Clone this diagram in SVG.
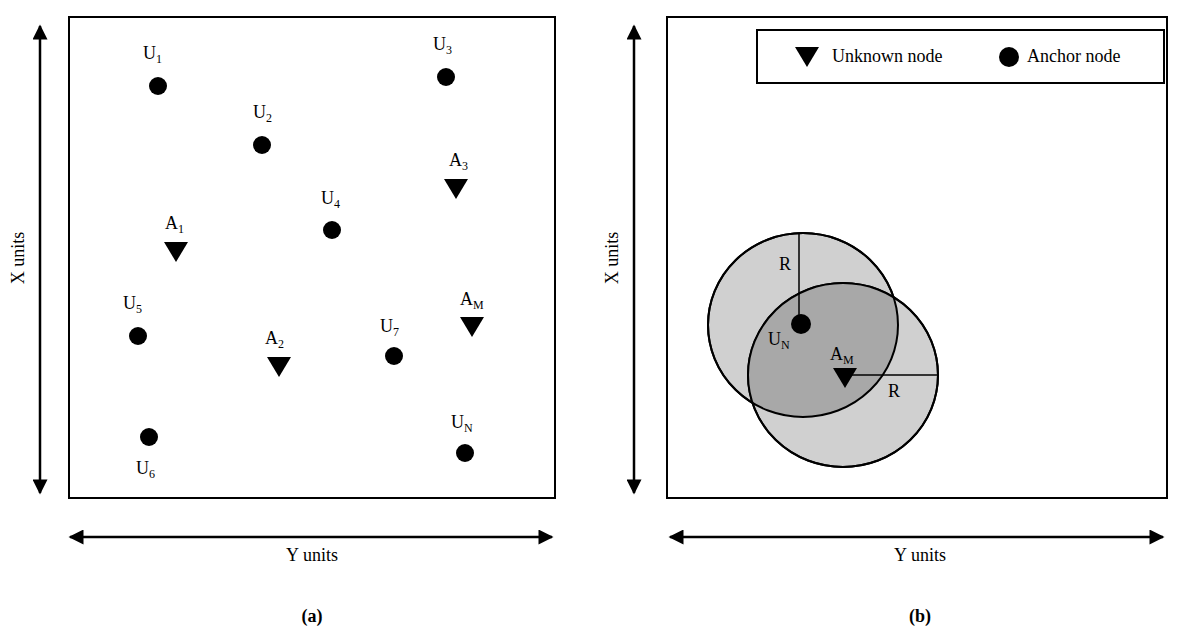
<svg xmlns="http://www.w3.org/2000/svg" width="1200" height="642" viewBox="0 0 1200 642">
<style>
text{font-family:"Liberation Serif",serif;font-size:18px;fill:#000}
.s{font-size:12px}
.box{fill:none;stroke:#000;stroke-width:2}
.ax{stroke:#000;stroke-width:2.5;fill:none}
.b{font-weight:bold}
</style>
<defs>
<marker id="ah" viewBox="0 0 10 10" refX="9" refY="5" markerWidth="7" markerHeight="6" orient="auto-start-reverse"><path d="M0,0 L10,5 L0,10 Z" fill="#000"/></marker>
<symbol id="tri" viewBox="-12 -10 24 20" overflow="visible"><path d="M-12,-10 L12,-10 L0,10 Z" fill="#000"/></symbol>
<clipPath id="c1"><ellipse cx="803" cy="325" rx="95" ry="92"/></clipPath>
</defs>
<rect x="0" y="0" width="1200" height="642" fill="#fff"/>
<g id="connectors">
<line class="ax" x1="40" y1="26" x2="40" y2="493" marker-start="url(#ah)" marker-end="url(#ah)"/>
<line class="ax" x1="70" y1="537" x2="552" y2="537" marker-start="url(#ah)" marker-end="url(#ah)"/>
<line class="ax" x1="634" y1="26" x2="634" y2="493" marker-start="url(#ah)" marker-end="url(#ah)"/>
<line class="ax" x1="670" y1="537" x2="1163" y2="537" marker-start="url(#ah)" marker-end="url(#ah)"/>
</g>
<g id="panelA">
<rect class="box" x="69" y="17" width="486" height="481"/>
<text x="24" y="258" text-anchor="middle" transform="rotate(-90 24 258)">X units</text>
<text x="312" y="561" text-anchor="middle">Y units</text>
<text x="312" y="622" text-anchor="middle" class="b">(a)</text>
<g id="U1"><circle cx="158" cy="86" r="9"/><text x="143" y="59">U<tspan class="s" dy="4">1</tspan></text></g>
<g id="U2"><circle cx="262" cy="145" r="9"/><text x="253" y="118">U<tspan class="s" dy="4">2</tspan></text></g>
<g id="U3"><circle cx="446" cy="77" r="9"/><text x="433" y="50">U<tspan class="s" dy="4">3</tspan></text></g>
<g id="U4"><circle cx="332" cy="230" r="9"/><text x="321" y="204">U<tspan class="s" dy="4">4</tspan></text></g>
<g id="U5"><circle cx="138" cy="336" r="9"/><text x="123" y="309">U<tspan class="s" dy="4">5</tspan></text></g>
<g id="U6"><circle cx="149" cy="437" r="9"/><text x="136" y="474">U<tspan class="s" dy="4">6</tspan></text></g>
<g id="U7"><circle cx="394" cy="356" r="9"/><text x="380" y="332">U<tspan class="s" dy="4">7</tspan></text></g>
<g id="UN"><circle cx="465" cy="453" r="9"/><text x="451" y="428">U<tspan class="s" dy="4">N</tspan></text></g>
<g id="A1"><use href="#tri" x="164" y="242" width="24" height="20"/><text x="165" y="229">A<tspan class="s" dy="4">1</tspan></text></g>
<g id="A2"><use href="#tri" x="267" y="357" width="24" height="20"/><text x="265" y="344">A<tspan class="s" dy="4">2</tspan></text></g>
<g id="A3"><use href="#tri" x="444" y="179" width="24" height="20"/><text x="449" y="166">A<tspan class="s" dy="4">3</tspan></text></g>
<g id="AM"><use href="#tri" x="460" y="317" width="24" height="20"/><text x="460" y="305">A<tspan class="s" dy="4">M</tspan></text></g>
</g>
<g id="panelB">
<rect class="box" x="667" y="17" width="500" height="481"/>
<text x="618" y="258" text-anchor="middle" transform="rotate(-90 618 258)">X units</text>
<text x="920" y="561" text-anchor="middle">Y units</text>
<text x="920" y="622" text-anchor="middle" class="b">(b)</text>
<g id="legend">
<rect x="757" y="30" width="407" height="53" fill="#fff" stroke="#000" stroke-width="2"/>
<use href="#tri" x="795" y="47" width="24" height="20"/>
<text x="832" y="62">Unknown node</text>
<circle cx="1009" cy="57" r="10"/>
<text x="1027" y="62">Anchor node</text>
</g>
<g id="circles">
<ellipse cx="803" cy="325" rx="95" ry="92" fill="#d0d0d0" stroke="#000" stroke-width="2"/>
<ellipse cx="843" cy="375" rx="95" ry="92" fill="#d0d0d0" stroke="#000" stroke-width="2"/>
<ellipse cx="843" cy="375" rx="95" ry="92" fill="#a8a8a8" clip-path="url(#c1)"/>
<ellipse cx="803" cy="325" rx="95" ry="92" fill="none" stroke="#000" stroke-width="2"/>
<ellipse cx="843" cy="375" rx="95" ry="92" fill="none" stroke="#000" stroke-width="2"/>
<line x1="799" y1="233" x2="799" y2="324" stroke="#000" stroke-width="1.5"/>
<line x1="845" y1="375" x2="938" y2="375" stroke="#000" stroke-width="1.5"/>
<text x="779" y="270">R</text>
<text x="888" y="397">R</text>
</g>
<g id="UNb"><circle cx="801" cy="324" r="10"/><text x="768" y="345">U<tspan class="s" dy="4">N</tspan></text></g>
<g id="AMb"><use href="#tri" x="833" y="368" width="24" height="20"/><text x="830" y="360">A<tspan class="s" dy="4">M</tspan></text></g>
</g>
</svg>
